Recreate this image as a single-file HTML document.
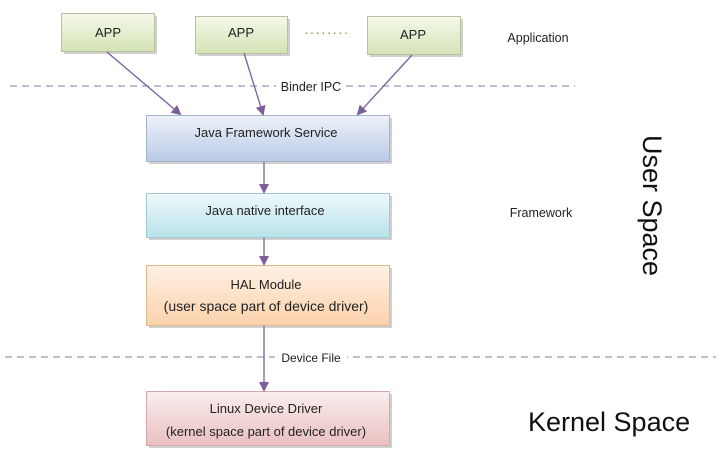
<!DOCTYPE html>
<html><head><style>body{margin:0;background:#fff}svg{display:block}</style></head><body>
<svg width="722" height="454" xmlns="http://www.w3.org/2000/svg" font-family="Liberation Sans, sans-serif">
<defs>
<linearGradient id="g" x1="0" y1="0" x2="0" y2="1"><stop offset="0" stop-color="#f5f9ea"/><stop offset="1" stop-color="#d4e3b5"/></linearGradient>
<linearGradient id="b" x1="0" y1="0" x2="0" y2="1"><stop offset="0" stop-color="#eef2fa"/><stop offset="1" stop-color="#b9cae6"/></linearGradient>
<linearGradient id="c" x1="0" y1="0" x2="0" y2="1"><stop offset="0" stop-color="#eef9fb"/><stop offset="1" stop-color="#b8e2ea"/></linearGradient>
<linearGradient id="o" x1="0" y1="0" x2="0" y2="1"><stop offset="0" stop-color="#fff1e4"/><stop offset="1" stop-color="#fbd2ab"/></linearGradient>
<linearGradient id="r" x1="0" y1="0" x2="0" y2="1"><stop offset="0" stop-color="#fbeeee"/><stop offset="1" stop-color="#e9c0c0"/></linearGradient>
<marker id="a" markerWidth="10" markerHeight="10" refX="8" refY="5" orient="auto" markerUnits="userSpaceOnUse"><path d="M0,0 L10,5 L0,10 z" fill="#7a5f9a"/></marker>
</defs>
<g stroke="#8a7aa8" stroke-width="1" stroke-dasharray="7,5"><line x1="10" y1="86" x2="575" y2="86"/><line x1="5" y1="357" x2="716" y2="357"/></g>
<g fill="#d0d0d0">
<rect x="64" y="16" width="93" height="38"/><rect x="198" y="19" width="92" height="37"/><rect x="370" y="19" width="93" height="38"/>
<rect x="149" y="118" width="243" height="46"/><rect x="149" y="196" width="243" height="44"/><rect x="149" y="268" width="243" height="60"/><rect x="149" y="394" width="243" height="54"/>
</g>
<g stroke="#b8c2a0" stroke-width="1">
<rect x="61.5" y="13.5" width="93" height="38" fill="url(#g)"/>
<rect x="195.5" y="16.5" width="92" height="37" fill="url(#g)"/>
<rect x="367.5" y="16.5" width="93" height="38" fill="url(#g)"/>
</g>
<rect x="146.5" y="115.5" width="243" height="46" fill="url(#b)" stroke="#a4b2cc"/>
<rect x="146.5" y="193.5" width="243" height="44" fill="url(#c)" stroke="#a4c8d0"/>
<rect x="146.5" y="265.5" width="243" height="60" fill="url(#o)" stroke="#e0b890"/>
<rect x="146.5" y="391.5" width="243" height="54" fill="url(#r)" stroke="#d4a8a8"/>
<g stroke="#7a5f9a" stroke-width="1.3" marker-end="url(#a)">
<line x1="107" y1="52" x2="180" y2="114"/>
<line x1="244" y1="53" x2="263" y2="114"/>
<line x1="412" y1="55" x2="358" y2="114"/>
<line x1="264" y1="162" x2="264" y2="192"/>
<line x1="264" y1="238" x2="264" y2="264"/>
<line x1="264" y1="326" x2="264" y2="390"/>
</g>
<rect x="276" y="78" width="68" height="16" fill="#fff"/>
<rect x="275" y="349" width="72" height="16" fill="#fff"/>
<g font-size="13" fill="#222" text-anchor="middle">
<text x="108" y="37">APP</text><text x="241" y="37">APP</text><text x="413" y="39">APP</text>
<text x="311" y="91" font-size="12.5">Binder IPC</text>
<text x="266" y="137">Java Framework Service</text>
<text x="265" y="215">Java native interface</text>
<text x="266" y="289">HAL Module</text>
<text x="266" y="311" font-size="14">(user space part of device driver)</text>
<text x="311" y="362" font-size="12">Device File</text>
<text x="266" y="413">Linux Device Driver</text>
<text x="266" y="436">(kernel space part of device driver)</text>
<text x="538" y="42" font-size="12.5">Application</text>
<text x="541" y="217" font-size="12.5">Framework</text>
</g>
<text x="304" y="37" font-size="14" fill="#7f9a40" letter-spacing="1">········</text>
<text x="528" y="431" font-size="27" fill="#111">Kernel Space</text>
<text transform="translate(643,135) rotate(90)" font-size="27" fill="#111">User Space</text>
</svg>
</body></html>
